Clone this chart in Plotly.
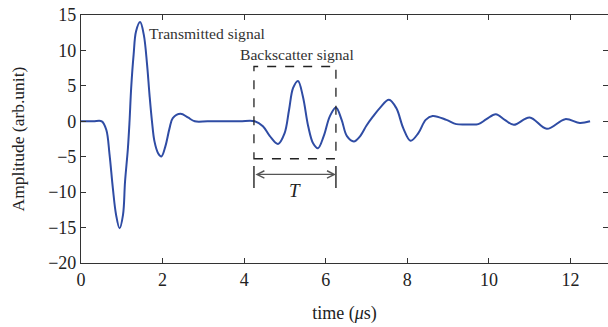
import plotly.graph_objects as go

# time (us) and amplitude samples
time_us = [0, 0.3, 0.51, 0.62, 0.70, 0.78, 0.86, 0.945, 1.03, 1.08, 1.15, 1.19,
           1.23, 1.29, 1.35, 1.45, 1.54, 1.62, 1.68, 1.74, 1.80, 1.89, 1.97,
           2.07, 2.17, 2.25, 2.44, 2.62, 2.79, 3.1, 3.5, 3.9, 4.26, 4.46, 4.63,
           4.83, 4.99, 5.10, 5.20, 5.32, 5.44, 5.57, 5.69, 5.81, 5.95, 6.10,
           6.25, 6.39, 6.52, 6.69, 6.83, 7.0, 7.16, 7.33, 7.55, 7.73, 7.90,
           8.08, 8.27, 8.45, 8.62, 8.96, 9.2, 9.5, 9.74, 9.94, 10.17, 10.39,
           10.61, 11.0, 11.42, 11.87, 12.23, 12.48]
amplitude = [0, 0, 0, -1.2, -4.7, -9.4, -13.2, -15.1, -13.2, -8.5, -3.8, 0,
             4.7, 9.4, 12.7, 14.0, 12.2, 8.0, 3.7, 0, -2.8, -4.5, -4.96,
             -3.5, -1.0, 0.45, 1.06, 0.54, 0, 0, 0, 0, 0, -0.7, -2.1,
             -3.2, -1.7, 1.6, 4.7, 5.7, 3.5, -0.7, -3.1, -3.8, -2.1, 0.7,
             1.95, 0.2, -2.1, -2.85, -2.2, -0.6, 0.68, 1.9, 3.03, 1.86, -0.96,
             -2.75, -1.67, 0.2, 0.75, 0.2, -0.4, -0.45, -0.4, 0.3, 1.0, 0.2,
             -0.5, 0.54, -1.06, 0.3, -0.25, 0]

x_ticks = [0, 2, 4, 6, 8, 10, 12]
y_ticks = [-20, -15, -10, -5, 0, 5, 10, 15]
y_ticktext = ["\u221220", "\u221215", "\u221210", "\u22125", "0", "5", "10", "15"]

window_t = [4.24, 6.25]
window_amp = [-5.29, 7.73]

SERIF = "Liberation Serif"
INK = "#222222"

fig = go.Figure()
fig.add_trace(go.Scatter(
    x=time_us, y=amplitude, mode="lines",
    line=dict(color="#2f4ca4", width=2, shape="spline", smoothing=1.0),
    hoverinfo="skip", showlegend=False))

# dashed window
fig.add_shape(type="rect", xref="x", yref="y",
              x0=window_t[0], x1=window_t[1], y0=window_amp[0], y1=window_amp[1],
              line=dict(color=INK, width=1.3, dash="dash"))
# vertical bars of the period marker
for xv in window_t:
    fig.add_shape(type="line", xref="x", yref="y", x0=xv, x1=xv, y0=-6.3, y1=-9.4,
                  line=dict(color=INK, width=1.4))
# double arrow
fig.add_annotation(x=window_t[1], y=-7.5, ax=window_t[0], ay=-7.5,
                   xref="x", yref="y", axref="x", ayref="y",
                   showarrow=True, arrowhead=5, startarrowhead=5,
                   arrowside="end+start", arrowsize=1.2, arrowwidth=1.2,
                   arrowcolor="#555555", text="")
fig.add_annotation(x=(window_t[0] + window_t[1]) / 2, y=-9.7, xref="x", yref="y",
                   text="<i>T</i>", showarrow=False,
                   font=dict(family=SERIF, size=19, color=INK),
                   xanchor="center", yanchor="middle")

fig.add_annotation(x=1.62, y=12.34, xref="x", yref="y", text="Transmitted signal",
                   showarrow=False, xanchor="left", yanchor="middle",
                   font=dict(family=SERIF, size=15.6, color="#333333"))
fig.add_annotation(x=3.84, y=9.48, xref="x", yref="y", text="Backscatter signal",
                   showarrow=False, xanchor="left", yanchor="middle",
                   font=dict(family=SERIF, size=15.6, color="#333333"))

axis_common = dict(showgrid=False, zeroline=False, showline=True, automargin=False,
                   linecolor="#333333", linewidth=1.2, ticks="inside",
                   ticklen=5, tickwidth=1.2, tickcolor="#333333",
                   tickfont=dict(family=SERIF, size=18, color=INK))

fig.update_xaxes(range=[0, 12.92], tickvals=x_ticks, mirror="ticks",
                 title=dict(text="time (<i>μ</i>s)", standoff=17,
                            font=dict(family=SERIF, size=18, color=INK)),
                 **axis_common)
fig.update_yaxes(range=[-20, 15], tickvals=y_ticks, ticktext=y_ticktext,
                 mirror="ticks",
                 title=dict(text="Amplitude (arb.unit)", standoff=19,
                            font=dict(family=SERIF, size=17.5, color=INK)),
                 **axis_common)

fig.update_layout(width=608, height=327, margin=dict(l=81, r=0, t=15, b=64),
                  paper_bgcolor="white", plot_bgcolor="white")

fig.write_html("out.html", config={"displayModeBar": False},
               post_script="document.body.style.margin='0';document.body.style.padding='0';")
